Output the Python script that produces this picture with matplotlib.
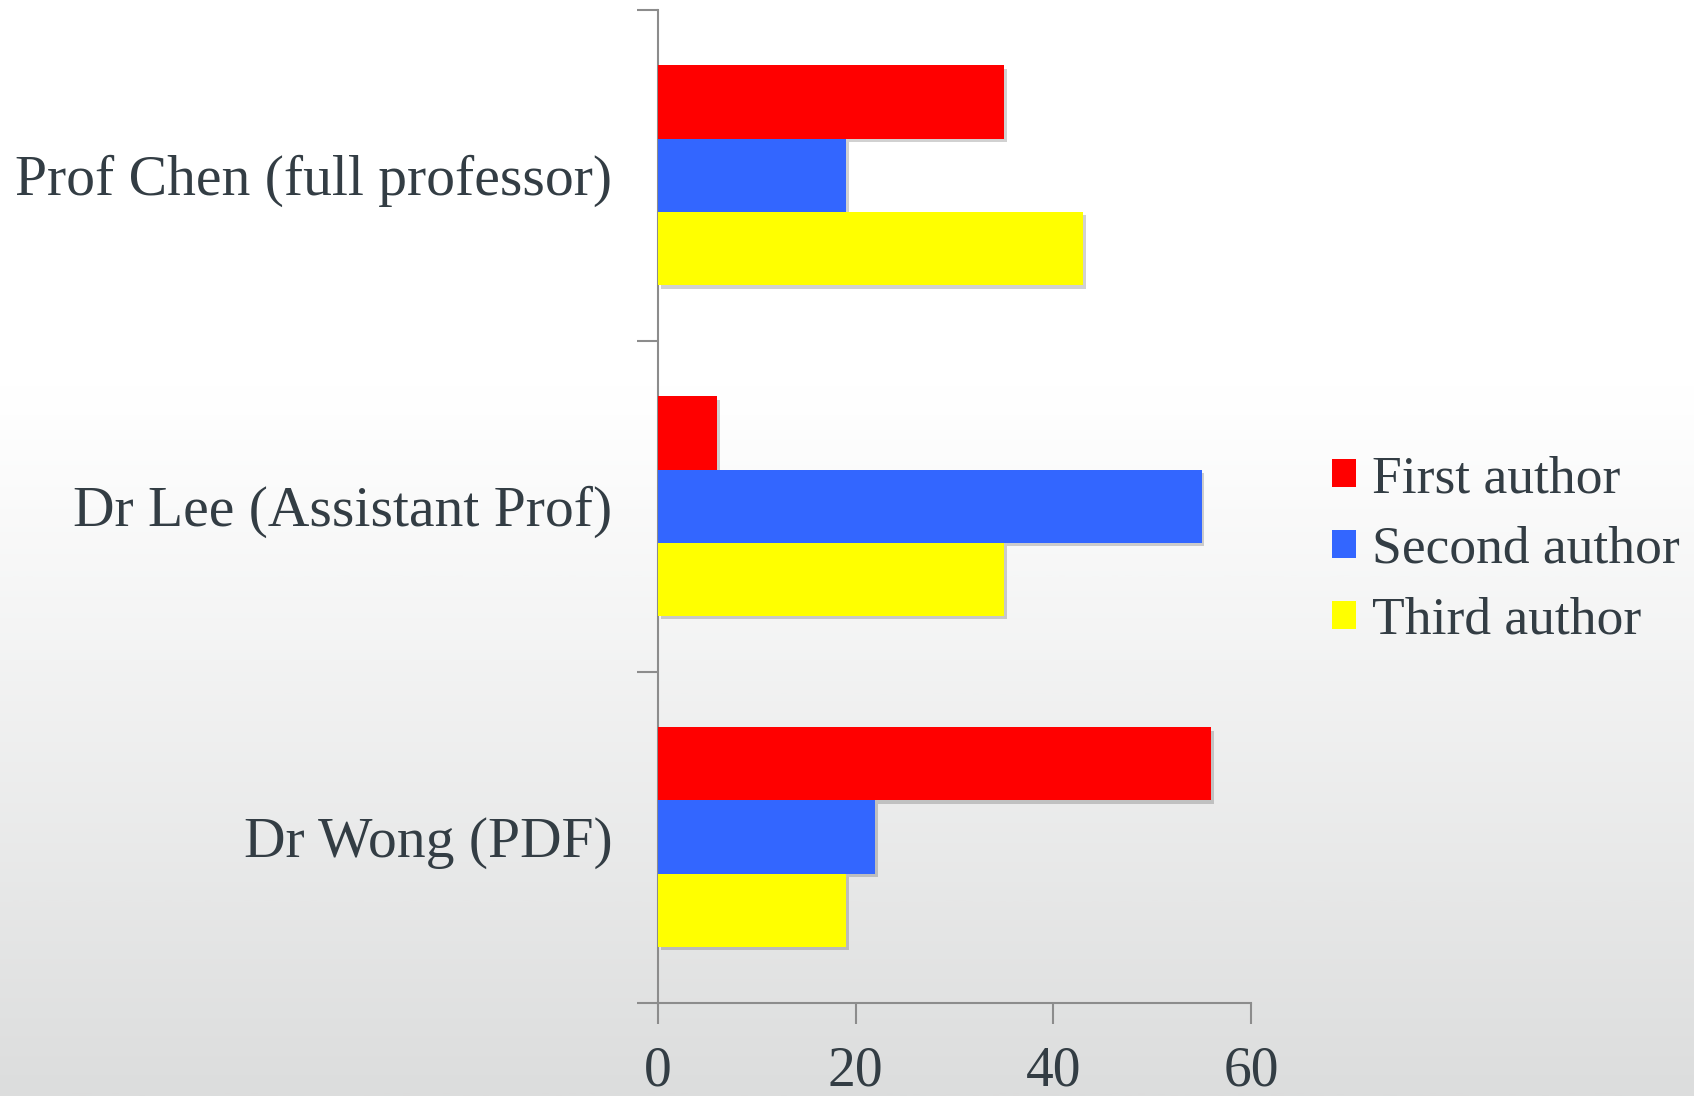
import numpy as np
import matplotlib
matplotlib.use("Agg")
import matplotlib.pyplot as plt
import matplotlib.patheffects as pe
from matplotlib.colors import LinearSegmentedColormap

categories = ["Prof Chen (full professor)", "Dr Lee (Assistant Prof)", "Dr Wong (PDF)"]
series_names = ["First author", "Second author", "Third author"]
first_author = [35, 6, 56]
second_author = [19, 55, 22]
third_author = [43, 35, 19]
xticks = [0, 20, 40, 60]

colors = ["#ff0000", "#3366ff", "#ffff00"]
text_color = "#333d44"
spine_color = "#8c8c8c"
serif = ["Liberation Serif", "DejaVu Serif"]

W, H = 1694, 1096
fig = plt.figure(figsize=(W / 100, H / 100), dpi=100)

# background gradient
bg = fig.add_axes([0, 0, 1, 1], zorder=-10)
grad = np.linspace(0, 1, 512)
vals = np.clip((grad - 0.35) / 0.65, 0, 1) ** 1.1
cmap = LinearSegmentedColormap.from_list("bg", ["#ffffff", "#dcdddd"])
bg.imshow(vals[:, None], aspect="auto", cmap=cmap, vmin=0, vmax=1,
          extent=[0, 1, 0, 1], origin="upper")
bg.set_axis_off()

left = 658 / W
right = 1251 / W
top = 1 - 9.7 / H
bottom = 1 - 1002.6 / H
ax = fig.add_axes([left, bottom, right - left, top - bottom])
ax.set_facecolor("none")

n = len(categories)
bar_h = 0.2213
series = [first_author, second_author, third_author]
shadow = [pe.SimplePatchShadow(offset=(2, -2.5), shadow_rgbFace="#000000", alpha=0.18), pe.Normal()]
for i, (vals_s, col, name) in enumerate(zip(series, colors, series_names)):
    ys = [n - 1 - c + 0.5 + (1 - i) * bar_h for c in range(n)]
    bars = ax.barh(ys, vals_s, height=bar_h, color=col, label=name, zorder=3)
    for b in bars:
        b.set_path_effects(shadow)

ax.set_xlim(0, 60)
ax.set_ylim(0, n)
ax.set_xticks(xticks)
ax.set_xticklabels([str(t) for t in xticks])
ax.set_yticks(range(n + 1))
ax.set_yticklabels([])
ax.set_yticks([n - 1 - c + 0.5 for c in range(n)], minor=True)
ax.set_yticklabels(categories, minor=True)
ax.tick_params(axis="y", which="minor", length=0, pad=33, labelsize=41.5, labelcolor=text_color)
ax.tick_params(axis="y", which="major", length=15, width=1.5, color=spine_color, direction="out")
ax.tick_params(axis="x", length=15, width=1.5, color=spine_color, direction="out",
               pad=16, labelsize=40, labelcolor=text_color)
for lab in ax.get_xticklabels() + ax.get_yticklabels(minor=True):
    lab.set_family(serif)
for s in ["top", "right"]:
    ax.spines[s].set_visible(False)
for s in ["left", "bottom"]:
    ax.spines[s].set_color(spine_color)
    ax.spines[s].set_linewidth(1.5)
ax.spines["left"].set_bounds(0, n)
ax.spines["bottom"].set_bounds(0, 60)

leg = fig.legend(loc="center left", bbox_to_anchor=(1332 / W, 1 - 550 / H),
                 frameon=False, prop={"family": serif, "size": 38.5},
                 handlelength=0.45, handleheight=0.45, handletextpad=0.3,
                 labelspacing=0.43, borderaxespad=0, borderpad=0)
for h in leg.legend_handles:
    h.set_path_effects([])
for t in leg.get_texts():
    t.set_color(text_color)

fig.savefig("out.png", dpi=100)
